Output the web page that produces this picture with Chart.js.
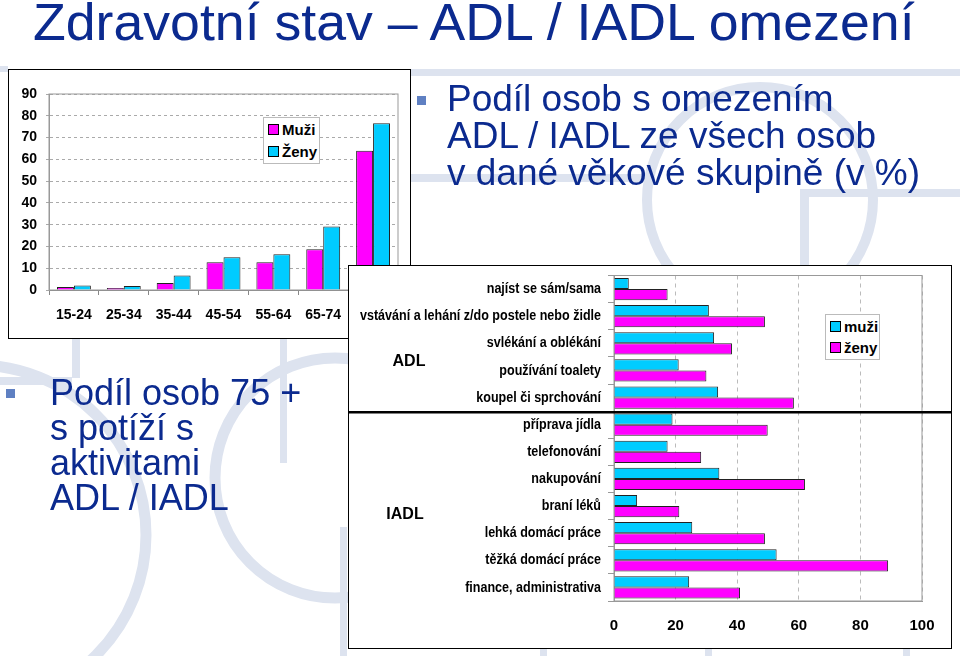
<!DOCTYPE html>
<html>
<head>
<meta charset="utf-8">
<script src="https://cdn.jsdelivr.net/npm/chart.js@4.4.1/dist/chart.umd.min.js"></script>
<style>
body{margin:0;width:960px;height:656px;overflow:hidden;background:#fff;position:relative;font-family:'Liberation Sans',Arial,sans-serif}
#bg{position:absolute;left:0;top:0}
.title{position:absolute;left:33px;top:-8px;font-size:52px;color:#0b2a8f;white-space:nowrap;transform-origin:0 0}
.txt{position:absolute;color:#0b2a8f;white-space:nowrap}
.bul{position:absolute;width:9px;height:9px;background:#5f80c2}
#box1{position:absolute;left:8px;top:69px;width:401px;height:268px;border:1.5px solid #000;background:#fff}
#box2{position:absolute;left:348px;top:265px;width:602px;height:382px;border:1.5px solid #000;background:#fff}
.leg{position:absolute;background:#fff;border:1px solid #bbb;font-weight:bold;font-size:15px;color:#000}
.leg div{position:absolute;left:4px;white-space:nowrap}
.leg span{display:inline-block;width:9px;height:9px;border:1px solid #000;margin-right:3px;vertical-align:0px}
</style>
</head>
<body>
<canvas id="bg" width="960" height="656"></canvas>

<div class="title" id="title">Zdravotní stav – ADL / IADL omezení</div>

<div class="bul" style="left:417px;top:96px"></div>
<div class="txt" style="left:447px;top:80px;font-size:37px;line-height:37px">Podíl osob s omezením<br>ADL / IADL ze všech osob<br>v dané věkové skupině (v %)</div>

<div class="bul" style="left:6px;top:389px"></div>
<div class="txt" style="left:50px;top:375px;font-size:36px;line-height:35px">Podíl osob 75 +<br>s potíží s<br>aktivitami<br>ADL / IADL</div>

<div id="box1"><canvas id="ageChart" width="401" height="268"></canvas></div>
<div class="leg" style="left:263px;top:117px;width:55px;height:45px">
  <div style="top:3px"><span style="background:#ff00ff"></span>Muži</div>
  <div style="top:25px"><span style="background:#00ccff"></span>Ženy</div>
</div>

<div id="box2"><canvas id="actChart" width="602" height="382"></canvas></div>
<div class="leg" style="left:825px;top:314px;width:53px;height:44px">
  <div style="top:3px"><span style="background:#00ccff"></span>muži</div>
  <div style="top:24px"><span style="background:#ff00ff"></span>ženy</div>
</div>

<script>
// age groups chart
const ageGroups = ['15-24', '25-34', '35-44', '45-54', '55-64', '65-74', '75+'];
const menByAge = [1.4, 0.9, 3.2, 12.7, 12.7, 18.7, 63.9];
const womenByAge = [2.1, 1.8, 6.7, 15.0, 16.4, 29.2, 76.6];

// ADL / IADL activities chart
const activities = [
    'najíst se sám/sama',
    'vstávání a lehání z/do postele nebo židle',
    'svlékání a oblékání',
    'používání toalety',
    'koupel či sprchování',
    'příprava jídla',
    'telefonování',
    'nakupování',
    'braní léků',
    'lehká domácí práce',
    'těžká domácí práce',
    'finance, administrativa'
];
const menByActivity = [4.8, 30.8, 32.5, 21.0, 33.8, 19.0, 17.4, 34.2, 7.5, 25.4, 52.8, 24.4];
const womenByActivity = [17.4, 49.0, 38.3, 30.0, 58.4, 49.9, 28.3, 62.0, 21.2, 49.0, 89.0, 40.9];
const groupNames = ['ADL', 'IADL'];
const adlCount = 5;

const MAGENTA = '#ff00ff';
const CYAN = '#00ccff';

// background decoration of the slide
(function(){
    const c = document.getElementById('bg').getContext('2d');
    c.fillStyle = c.strokeStyle = 'rgb(221,227,239)';
    c.fillRect(410, 69, 550, 7);
    c.fillRect(410, 174, 240, 8);
    c.fillRect(800, 189, 160, 8);
    c.fillRect(800, 189, 9, 80);
    c.fillRect(0, 66, 8, 6);
    c.fillRect(72, 338, 8, 40);
    c.fillRect(0, 377, 72, 8);
    c.fillRect(280, 338, 7, 125);
    c.fillRect(340, 527, 7, 130);
    c.fillRect(540, 648, 7, 8);
    c.fillRect(705, 648, 7, 8);
    c.fillRect(903, 648, 7, 8);
    c.lineWidth = 10;
    c.beginPath(); c.arc(760, 200, 113, 0, Math.PI * 2); c.stroke();
    c.lineWidth = 11;
    c.beginPath(); c.arc(-24, 535, 170, 0, Math.PI * 2); c.stroke();
    c.beginPath(); c.arc(335, 478, 120, 0, Math.PI * 2); c.stroke();
})();

// stretch the title to its width on the slide
const t = document.getElementById('title');
t.style.transform = 'scaleX(' + (882 / t.offsetWidth) + ')';

const plotFrame = {
    id: 'plotFrame',
    beforeDatasetsDraw(chart){
        const a = chart.chartArea, ctx = chart.ctx;
        ctx.save();
        ctx.strokeStyle = '#999';
        ctx.lineWidth = 1;
        ctx.strokeRect(a.left, a.top, a.right - a.left, a.bottom - a.top);
        ctx.restore();
    }
};

new Chart(document.getElementById('ageChart'), {
    type: 'bar',
    data: {
        labels: ageGroups,
        datasets: [{
            label: 'Muži',
            data: menByAge,
            backgroundColor: MAGENTA,
            borderColor: '#222',
            borderWidth: 1
        }, {
            label: 'Ženy',
            data: womenByAge,
            backgroundColor: CYAN,
            borderColor: '#222',
            borderWidth: 1
        }]
    },
    options: {
        responsive: false,
        animation: false,
        layout: { padding: { left: 0, right: 12, top: 24, bottom: 0 } },
        plugins: { legend: { display: false }, tooltip: { enabled: false } },
        datasets: { bar: { categoryPercentage: 0.68, barPercentage: 1 } },
        scales: {
            x: {
                grid: { drawOnChartArea: false, tickLength: 5, color: '#888' },
                border: { color: '#888' },
                ticks: { padding: 12, color: '#000', font: { family: 'Liberation Sans', size: 14, weight: 'bold' } },
                afterFit(s){ s.height = 48; }
            },
            y: {
                min: 0, max: 90,
                grid: { color: '#aaa', tickLength: 3 },
                border: { color: '#999', dash: [3, 3] },
                ticks: { stepSize: 10, padding: 9, color: '#000', font: { family: 'Liberation Sans', size: 14, weight: 'bold' } },
                afterFit(s){ s.width = 40; }
            }
        }
    },
    plugins: [plotFrame]
});

// narrow category labels, group names and the ADL / IADL divider
const LABEL_FONT = 'bold 15px "Liberation Sans", Arial, sans-serif';
const activityLabels = {
    id: 'activityLabels',
    afterDraw(chart){
        const y = chart.scales.y, ctx = chart.ctx;
        ctx.save();
        ctx.font = LABEL_FONT;
        const longest = Math.max(...activities.map(s => ctx.measureText(s).width));
        const k = 241 / longest;
        const right = y.right - 13;
        ctx.fillStyle = '#000';
        ctx.textAlign = 'right';
        ctx.textBaseline = 'middle';
        activities.forEach((label, i) => {
            ctx.save();
            ctx.translate(right, y.getPixelForTick(i));
            ctx.scale(k, 1);
            ctx.fillText(label, 0, 0);
            ctx.restore();
        });

        const mid = (y.getPixelForTick(adlCount - 1) + y.getPixelForTick(adlCount)) / 2;
        ctx.strokeStyle = '#000';
        ctx.lineWidth = 2.5;
        ctx.beginPath();
        ctx.moveTo(0, mid + 1);
        ctx.lineTo(chart.width, mid + 1);
        ctx.stroke();

        ctx.font = 'bold 16px "Liberation Sans", Arial, sans-serif';
        ctx.textAlign = 'center';
        ctx.fillText(groupNames[0], 60, y.getPixelForValue(2.67));
        ctx.fillText(groupNames[1], 56, y.getPixelForValue(8.3));
        ctx.restore();
    }
};

new Chart(document.getElementById('actChart'), {
    type: 'bar',
    data: {
        labels: activities,
        datasets: [{
            label: 'muži',
            data: menByActivity,
            backgroundColor: CYAN,
            borderColor: '#222',
            borderWidth: 1
        }, {
            label: 'ženy',
            data: womenByActivity,
            backgroundColor: MAGENTA,
            borderColor: '#222',
            borderWidth: 1
        }]
    },
    options: {
        indexAxis: 'y',
        responsive: false,
        animation: false,
        layout: { padding: { left: 0, right: 29, top: 9.5, bottom: 0 } },
        plugins: { legend: { display: false }, tooltip: { enabled: false } },
        datasets: { bar: { categoryPercentage: 0.82, barPercentage: 1 } },
        scales: {
            x: {
                min: 0, max: 100,
                grid: { color: '#bbb', drawTicks: false },
                border: { color: '#999', dash: [4, 4] },
                ticks: { stepSize: 20, padding: 16, color: '#000', font: { family: 'Liberation Sans', size: 15, weight: 'bold' } },
                afterFit(s){ s.height = 47; }
            },
            y: {
                grid: { drawOnChartArea: false, tickLength: 6, color: '#999' },
                border: { color: '#999' },
                ticks: { display: false },
                afterFit(s){ s.width = 265; }
            }
        }
    },
    plugins: [plotFrame, activityLabels]
});
</script>
</body>
</html>
